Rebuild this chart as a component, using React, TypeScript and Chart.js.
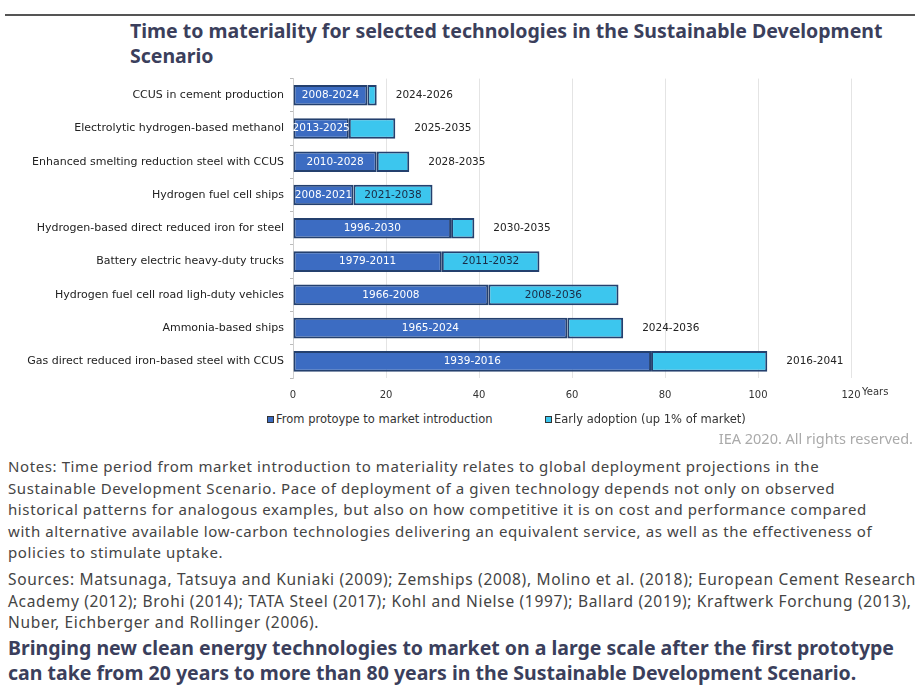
import React, { useEffect, useRef } from "react";
import { Chart, registerables } from "chart.js";

Chart.register(...registerables);

const categories = [
  "CCUS in cement production",
  "Electrolytic hydrogen-based methanol",
  "Enhanced smelting reduction steel with CCUS",
  "Hydrogen fuel cell ships",
  "Hydrogen-based direct reduced iron for steel",
  "Battery electric heavy-duty trucks",
  "Hydrogen fuel cell road ligh-duty vehicles",
  "Ammonia-based ships",
  "Gas direct reduced iron-based steel with CCUS",
];
const prototypeYears = [16, 12, 18, 13, 34, 32, 42, 59, 77];
const earlyYears = [2, 10, 7, 17, 5, 21, 28, 12, 25];
const prototypeLabels = ["2008-2024", "2013-2025", "2010-2028", "2008-2021", "1996-2030", "1979-2011", "1966-2008", "1965-2024", "1939-2016"];
const earlyLabels = ["2024-2026", "2025-2035", "2028-2035", "2021-2038", "2030-2035", "2011-2032", "2008-2036", "2024-2036", "2016-2041"];
const earlyLabelInside = [false, false, false, true, false, true, true, false, false];
const xTicks = [0, 20, 40, 60, 80, 100, 120];
const seriesNames = ["From protoype to market introduction", "Early adoption (up 1% of market)"];

const DARK = "#3c6cc2";
const LIGHT = "#3cc6ee";
const EDGE = "#24406e";
const CHART_FONT = "'DejaVu Sans', sans-serif";
const LABEL_FONT = "10.5px 'DejaVu Sans', sans-serif";

const barLabels = {
  id: "barLabels",
  afterDatasetsDraw(chart: any) {
    const ctx = chart.ctx;
    ctx.save();
    ctx.font = LABEL_FONT;
    ctx.textBaseline = "middle";
    chart.data.datasets.forEach((ds: any, di: number) => {
      const meta = chart.getDatasetMeta(di);
      meta.data.forEach((bar: any, i: number) => {
        const left = Math.min(bar.base, bar.x);
        const right = Math.max(bar.base, bar.x);
        if (di === 0) {
          ctx.fillStyle = "#ffffff";
          ctx.textAlign = "center";
          ctx.fillText(prototypeLabels[i], (left + right) / 2, bar.y);
        } else if (earlyLabelInside[i]) {
          ctx.fillStyle = "#1a2a44";
          ctx.textAlign = "center";
          ctx.fillText(earlyLabels[i], (left + right) / 2, bar.y);
        } else {
          ctx.fillStyle = "#222222";
          ctx.textAlign = "left";
          ctx.fillText(earlyLabels[i], right + 19, bar.y);
        }
      });
    });
    ctx.restore();
  },
};

export default function App() {
  const ref = useRef<HTMLCanvasElement>(null);

  useEffect(() => {
    if (!ref.current) return;
    const chart = new Chart(ref.current, {
      type: "bar",
      data: {
        labels: categories,
        datasets: [
          {
            label: seriesNames[0],
            data: prototypeYears,
            backgroundColor: DARK,
            borderColor: EDGE,
            borderWidth: 2,
            borderSkipped: false,
            barPercentage: 0.62,
            categoryPercentage: 1,
          },
          {
            label: seriesNames[1],
            data: earlyYears,
            backgroundColor: LIGHT,
            borderColor: EDGE,
            borderWidth: 2,
            borderSkipped: false,
            barPercentage: 0.62,
            categoryPercentage: 1,
          },
        ],
      },
      options: {
        indexAxis: "y",
        animation: false,
        responsive: false,
        maintainAspectRatio: false,
        layout: { padding: { left: 0, right: 64, top: 0, bottom: 0 } },
        plugins: {
          legend: { display: false },
          tooltip: { enabled: false },
          title: { display: false },
        },
        scales: {
          x: {
            stacked: true,
            min: 0,
            max: 120,
            afterBuildTicks: (s: any) => {
              s.ticks = xTicks.map((v) => ({ value: v }));
            },
            afterFit: (s: any) => {
              s.height = 30;
            },
            grid: { color: "#e4e4e4", drawTicks: false, lineWidth: 1 },
            border: { display: false },
            ticks: {
              color: "#333",
              padding: 11,
              font: { family: CHART_FONT, size: 10 },
            },
          },
          y: {
            stacked: true,
            afterFit: (s: any) => {
              s.width = 293;
            },
            grid: { display: true, drawOnChartArea: false, drawTicks: true, tickLength: 3, color: "#bbb", offset: true },
            border: { display: true, color: "#cfcfcf" },
            ticks: {
              color: "#222",
              padding: 6,
              font: { family: CHART_FONT, size: 11 },
            },
          },
        },
      },
      plugins: [barLabels],
    });
    return () => chart.destroy();
  }, []);

  const legendItem = (color: string, text: string, left: number) => (
    <div style={{ position: "absolute", left, top: 412, display: "flex", alignItems: "center", font: "11.5px 'DejaVu Sans', sans-serif", color: "#333", whiteSpace: "nowrap" }}>
      <span style={{ display: "inline-block", width: 5, height: 5, background: color, border: "1px solid #333", marginRight: 2 }} />
      {text}
    </div>
  );

  const bodyText = { font: "15px 'Noto Sans', sans-serif", letterSpacing: "0.6px", lineHeight: "21.5px", color: "#444" };
  const boldText = { font: "bold 19.5px 'Noto Sans', sans-serif", lineHeight: "25px", color: "#3b3f5c" };

  return (
    <div style={{ position: "absolute", left: 0, top: 0, width: 915, height: 695, background: "#fff", overflow: "hidden" }}>
      <div style={{ position: "absolute", left: 5, top: 14, width: 910, height: 2, background: "#555" }} />
      <div style={{ position: "absolute", left: 130, top: 18, width: 780, ...boldText }}>
        Time to materiality for selected technologies in the Sustainable Development Scenario
      </div>
      <canvas ref={ref} width={915} height={342} style={{ position: "absolute", left: 0, top: 66, width: 915, height: 342 }} />
      <div style={{ position: "absolute", left: 862, top: 386, font: "10px 'DejaVu Sans', sans-serif", color: "#333" }}>Years</div>
      {legendItem(DARK, seriesNames[0], 267)}
      {legendItem(LIGHT, seriesNames[1], 545)}
      <div style={{ position: "absolute", right: 2, top: 428, font: "14.5px 'Noto Sans', sans-serif", color: "#aaa" }}>IEA 2020. All rights reserved.</div>
      <div style={{ position: "absolute", left: 8, top: 456, width: 890, ...bodyText }}>
        Notes: Time period from market introduction to materiality relates to global deployment projections in the Sustainable Development Scenario. Pace of deployment of a given technology depends not only on observed historical patterns for analogous examples, but also on how competitive it is on cost and performance compared with alternative available low-carbon technologies delivering an equivalent service, as well as the effectiveness of policies to stimulate uptake.
      </div>
      <div style={{ position: "absolute", left: 8, top: 569, width: 912, ...bodyText, font: "15.5px 'Noto Sans', sans-serif", letterSpacing: "0.68px" }}>
        Sources: Matsunaga, Tatsuya and Kuniaki (2009); Zemships (2008), Molino et al. (2018); European Cement Research Academy (2012); Brohi (2014); TATA Steel (2017); Kohl and Nielse (1997); Ballard (2019); Kraftwerk Forchung (2013), Nuber, Eichberger and Rollinger (2006).
      </div>
      <div style={{ position: "absolute", left: 8, top: 635, width: 905, ...boldText }}>
        Bringing new clean energy technologies to market on a large scale after the first prototype can take from 20 years to more than 80 years in the Sustainable Development Scenario.
      </div>
    </div>
  );
}
